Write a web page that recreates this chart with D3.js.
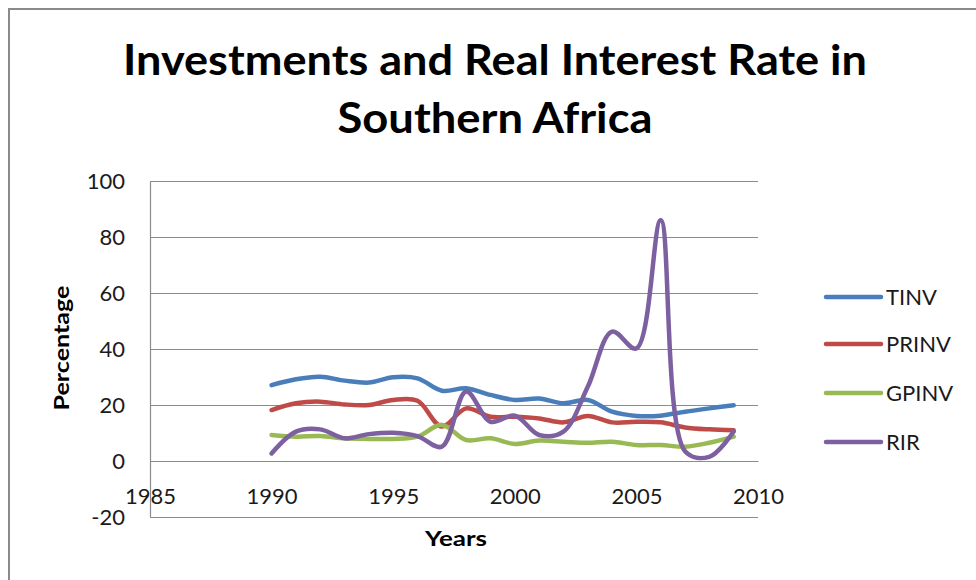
<!DOCTYPE html>
<html><head><meta charset="utf-8">
<script src="https://cdn.jsdelivr.net/npm/d3@7"></script>
<style>
html,body{margin:0;padding:0;background:#fff;overflow:hidden}
svg{display:block}
</style></head>
<body>
<svg id="chart" width="976" height="580"></svg>
<script>
const years = [1990,1991,1992,1993,1994,1995,1996,1997,1998,1999,2000,2001,2002,2003,2004,2005,2006,2007,2008,2009];
const tinv  = [27.1,29.2,30.1,28.7,28.0,29.9,29.5,25.1,26.0,23.6,21.8,22.3,20.6,21.8,17.6,16.1,16.2,17.6,18.8,19.9];
const prinv = [18.2,20.6,21.2,20.2,20.0,21.8,21.5,12.3,18.8,15.8,15.8,15.2,13.8,16.1,13.8,14.0,13.8,12.0,11.3,11.0];
const gpinv = [9.3,8.7,8.9,8.1,7.9,7.9,8.7,12.9,7.5,8.1,6.1,7.3,6.9,6.5,6.9,5.7,5.7,5.1,6.5,8.7];
const rir   = [2.7,10.5,11.3,8.1,9.6,10.1,8.9,5.1,24.8,14.0,16.2,9.3,10.5,26.5,46.2,40.2,86.0,3.5,1.5,10.5];
const seriesNames = ["TINV","PRINV","GPINV","RIR"];
const seriesColors = ["#4A7EBB","#BE4B48","#98B954","#7D60A0"];
const xTicks = [1985,1990,1995,2000,2005,2010];
const yTicks = [-20,0,20,40,60,80,100];
const titleLines = ["Investments and Real Interest Rate in","Southern Africa"];

const seriesData = [tinv, prinv, gpinv, rir];
const svg = d3.select("#chart");
const font = "Lato, 'Open Sans', sans-serif";

// outer frame
svg.append("rect").attr("x",9).attr("y",9).attr("width",1000).attr("height",600)
  .attr("fill","none").attr("stroke","#8a8a8a").attr("stroke-width",2);

// title
svg.append("text").attr("x",495).attr("y",75).attr("text-anchor","middle")
  .attr("font-family",font).attr("font-weight",700).attr("font-size",42).attr("fill","#000")
  .attr("textLength",744).attr("lengthAdjust","spacingAndGlyphs").text(titleLines[0]);
svg.append("text").attr("x",495).attr("y",133).attr("text-anchor","middle")
  .attr("font-family",font).attr("font-weight",700).attr("font-size",42).attr("fill","#000")
  .attr("textLength",315).attr("lengthAdjust","spacingAndGlyphs").text(titleLines[1]);

const x = d3.scaleLinear().domain([1985,2010]).range([150,758]);
const y = d3.scaleLinear().domain([-20,100]).range([517,181]);

// gridlines
const grid = svg.append("g").attr("transform","translate(150,0)")
  .call(d3.axisLeft(y).tickValues(yTicks).tickSize(-(758-150)).tickFormat(""));
grid.select(".domain").remove();
grid.selectAll("line").attr("stroke","#8c8c8c").attr("stroke-width",1.2);

// y axis
const ya = svg.append("g").attr("transform","translate(150,0)")
  .call(d3.axisLeft(y).tickValues(yTicks).tickSize(0).tickPadding(25).tickFormat(d=>String(d)));
ya.select(".domain").attr("stroke","#8c8c8c").attr("stroke-width",1.2);
ya.selectAll("text").attr("font-family",font).attr("font-size",22).attr("fill","#1a1a1a");

// x axis at 0
const xa = svg.append("g").attr("transform",`translate(0,${y(0)})`)
  .call(d3.axisBottom(x).tickValues(xTicks).tickSize(0).tickPadding(27).tickFormat(d=>String(d)));
xa.select(".domain").attr("stroke","#8c8c8c").attr("stroke-width",1.2);
xa.selectAll("text").attr("font-family",font).attr("font-size",22).attr("fill","#1a1a1a");

// axis titles
svg.append("text").attr("transform","translate(69,348) rotate(-90)").attr("text-anchor","middle")
  .attr("font-family",font).attr("font-weight",700).attr("font-size",21).attr("fill","#000")
  .attr("textLength",125).attr("lengthAdjust","spacingAndGlyphs").text("Percentage");
svg.append("text").attr("x",456).attr("y",546).attr("text-anchor","middle")
  .attr("font-family",font).attr("font-weight",700).attr("font-size",21).attr("fill","#000")
  .attr("textLength",62).attr("lengthAdjust","spacingAndGlyphs").text("Years");

// lines
const line = d3.line().x((d,i)=>x(years[i])).y(d=>y(d)).curve(d3.curveCatmullRom.alpha(0.5));
seriesData.forEach((s,k)=>{
  svg.append("path").datum(s).attr("d",line).attr("fill","none")
    .attr("stroke",seriesColors[k]).attr("stroke-width",4.5)
    .attr("stroke-linecap","round").attr("stroke-linejoin","round");
});

// legend
const legY = [297,344,393,442];
seriesNames.forEach((n,k)=>{
  svg.append("line").attr("x1",826).attr("x2",881).attr("y1",legY[k]).attr("y2",legY[k])
    .attr("stroke",seriesColors[k]).attr("stroke-width",4.5).attr("stroke-linecap","round");
  svg.append("text").attr("x",886).attr("y",legY[k]).attr("dy","0.36em")
    .attr("font-family",font).attr("font-size",22).attr("fill","#1a1a1a").text(n);
});
</script>
</body></html>
